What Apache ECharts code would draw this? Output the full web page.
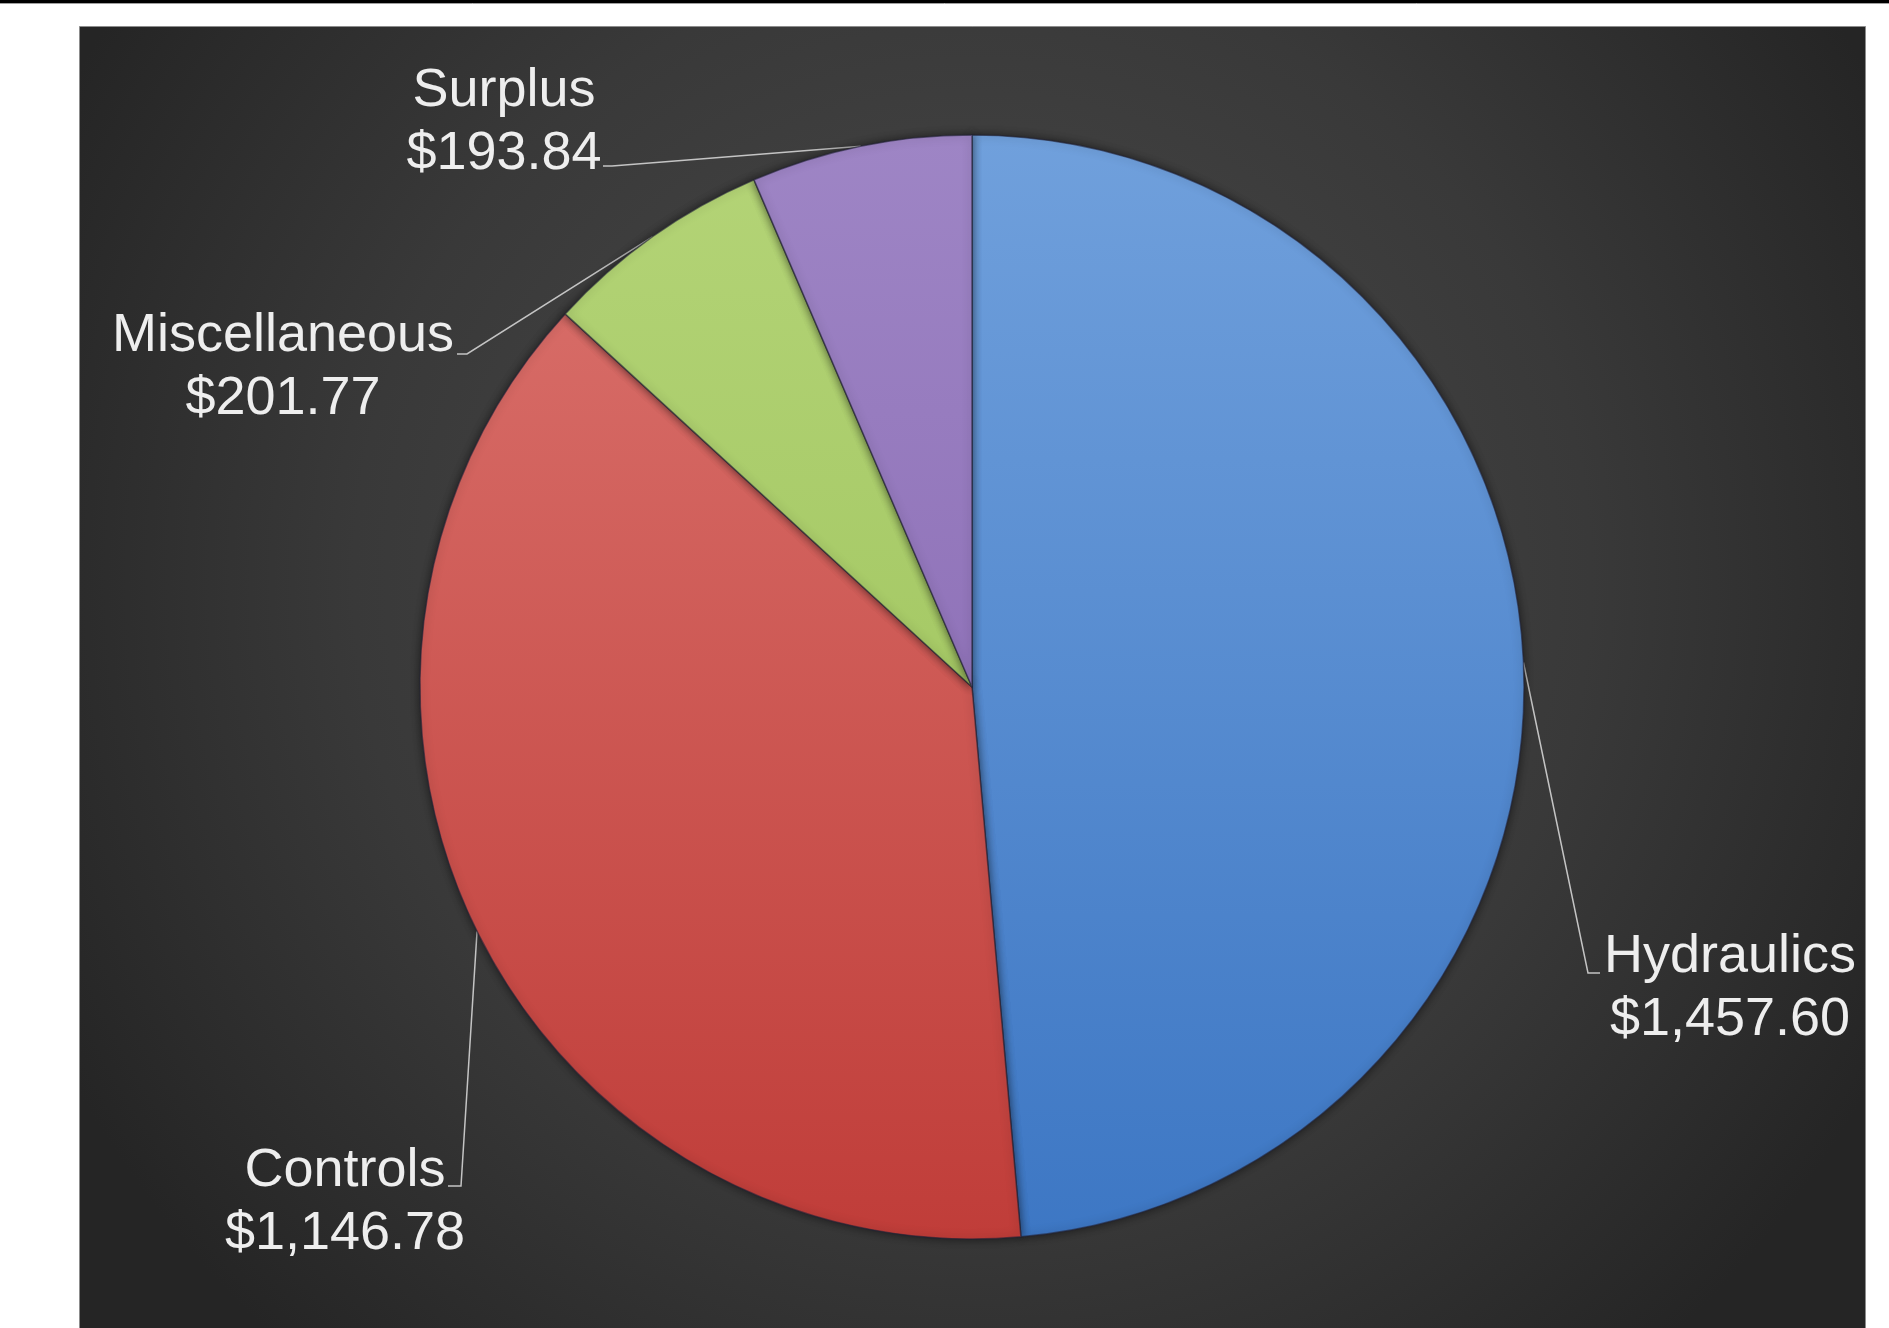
<!DOCTYPE html>
<html>
<head>
<meta charset="utf-8">
<script src="https://cdn.jsdelivr.net/npm/echarts@6/dist/echarts.min.js"></script>
<style>
html,body{margin:0;padding:0;background:#ffffff;}
#main{width:1889px;height:1328px;}
</style>
</head>
<body>
<div id="main"></div>
<script>
// ---- data ----
const categories = ['Hydraulics', 'Controls', 'Miscellaneous', 'Surplus'];
const values = [1457.60, 1146.78, 201.77, 193.84];

// ---- styles / layout ----
const sliceTop = ['#70a0dc', '#db746f', '#b4d477', '#9e85c5'];
const sliceBottom = ['#3d77c4', '#c03d39', '#97be54', '#8261ad'];
const PIE_CX = 972, PIE_CY = 687, PIE_R = 552;
// label block centre and leader-line end / bend (layout only)
const labelSpots = [
  { x: 1730, y: 989, endX: 1600, endY: 973, bendX: 1588 },
  { x: 345, y: 1203, endX: 448, endY: 1186, bendX: 461 },
  { x: 283, y: 368, endX: 457, endY: 354, bendX: 467 },
  { x: 504, y: 123, endX: 603, endY: 166, bendX: 612 }
];

function fmtMoney(v) {
  return '$' + v.toLocaleString('en-US', { minimumFractionDigits: 2, maximumFractionDigits: 2 });
}

const chart = echarts.init(document.getElementById('main'), null, { renderer: 'canvas' });

const seriesData = categories.map(function (name, i) {
  return {
    name: name,
    value: values[i],
    itemStyle: {
      color: new echarts.graphic.LinearGradient(0, PIE_CY - PIE_R, 0, PIE_CY + PIE_R, [
        { offset: 0, color: sliceTop[i] },
        { offset: 1, color: sliceBottom[i] }
      ], true)
    }
  };
});

const option = {
  animation: false,
  backgroundColor: '#ffffff',
  graphic: {
    elements: [
      {
        type: 'rect', z: 0, silent: true,
        shape: { x: 79.5, y: 26.5, width: 1786, height: 1320 },
        style: {
          fill: new echarts.graphic.RadialGradient(0.5, 0.42, 0.78, [
            { offset: 0, color: '#4c4c4c' },
            { offset: 0.6, color: '#393939' },
            { offset: 1, color: '#252525' }
          ]),
          stroke: '#8c8c8c', lineWidth: 1
        }
      },
      { type: 'rect', z: 0, silent: true, shape: { x: 0, y: 0, width: 1889, height: 3 }, style: { fill: '#000000' } },
      { type: 'line', z: 0, silent: true, shape: { x1: 0, y1: 3.5, x2: 1889, y2: 3.5 }, style: { stroke: '#a0a0a0', lineWidth: 1 } }
    ]
  },
  series: [{
    type: 'pie',
    center: [PIE_CX, PIE_CY],
    radius: [0, PIE_R],
    startAngle: 90,
    clockwise: true,
    avoidLabelOverlap: false,
    emphasis: { disabled: true },
    itemStyle: {
      borderColor: 'rgba(35,35,55,0.6)',
      borderWidth: 1.5,
      shadowBlur: 10,
      shadowColor: 'rgba(0,0,0,0.55)'
    },
    label: {
      show: true,
      position: 'outside',
      color: '#eeeeee',
      fontFamily: 'Liberation Sans, Arial, sans-serif',
      fontSize: 54,
      lineHeight: 63,
      formatter: function (p) { return p.name + '\n' + fmtMoney(p.value); }
    },
    labelLine: {
      show: true,
      smooth: false,
      lineStyle: { color: '#c4c4c4', width: 1.5 }
    },
    labelLayout: function (p) {
      const s = labelSpots[p.dataIndex];
      const a = (p.labelLinePoints && p.labelLinePoints[0]) || [s.bendX, s.endY];
      return {
        x: s.x,
        y: s.y,
        align: 'center',
        verticalAlign: 'middle',
        labelLinePoints: [a, [s.bendX, s.endY], [s.endX, s.endY]]
      };
    },
    data: seriesData
  }]
};

chart.setOption(option);
</script>
</body>
</html>
